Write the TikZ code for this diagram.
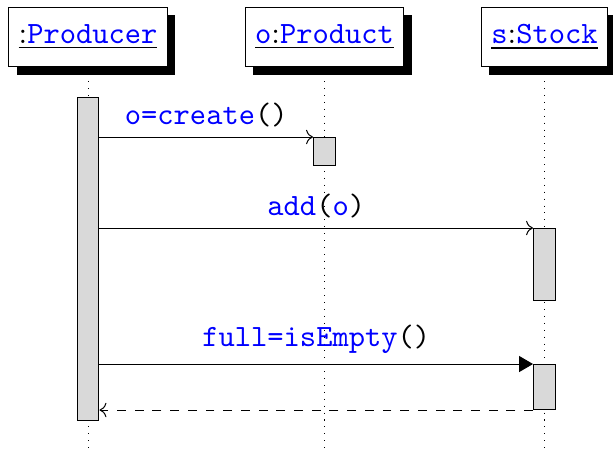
\documentclass[tikz,border=0pt]{standalone}
\usepackage{xcolor}
\usetikzlibrary{arrows.meta, shadows}

\begin{document}
\begin{tikzpicture}[x=0.339pt,y=-0.339pt,line width=0.34pt,
    every node/.style={font=\fontsize{10.5pt}{12pt}\selectfont},
    inst/.style={draw,fill=white,minimum height=20.3pt,inner xsep=3.4pt,
      drop shadow={opacity=1,fill=black,shadow xshift=2.7pt,shadow yshift=-2.7pt}},
    bar/.style={draw,fill=gray!30,anchor=north,inner sep=0pt,minimum width=7.45pt,minimum height=#1*0.339pt},
    life/.style={dotted},
    msg/.style={->},
    lbl/.style={midway,above,font=\fontsize{10.5pt}{12pt}\selectfont\ttfamily}]
  \useasboundingbox (0,0) rectangle (613,453);
  \node[inst] (producer) at (88,37) {\underline{:\textcolor{blue}{\texttt{Producer}}}};
  \node[inst] (product) at (324.5,37) {\underline{\textcolor{blue}{\texttt{o}}:\textcolor{blue}{\texttt{Product}}}};
  \node[inst] (stock) at (544.5,37) {\underline{\textcolor{blue}{\texttt{s}}:\textcolor{blue}{\texttt{Stock}}}};
  \coordinate (producerend) at (88,453);
  \coordinate (productend) at (324.5,453);
  \coordinate (stockend) at (544.5,453);
  \draw[life] (producer) -- (producerend);
  \draw[life] (product) -- (productend);
  \draw[life] (stock) -- (stockend);
  \node[bar=323] (pa) at (88,97) {};
  \node[bar=28] (oa) at (324.5,137) {};
  \node[bar=72] (sa) at (544.5,228) {};
  \node[bar=45] (sb) at (544.5,364) {};
  \draw[msg] (pa.east |- oa.north west) -- (oa.north west) node[lbl]{\textcolor{blue}{o=create}()};
  \draw[msg] (pa.east |- sa.north west) -- (sa.north west) node[lbl]{\textcolor{blue}{add}(\textcolor{blue}{o})};
  \draw[-{Triangle[length=4.7pt,width=5.4pt]}] (pa.east |- sb.north west) -- (sb.north west) node[lbl]{\textcolor{blue}{full=isEmpty}()};
  \draw[msg,dashed] (sb.south west) -- (pa.east |- sb.south west);
\end{tikzpicture}
\end{document}
